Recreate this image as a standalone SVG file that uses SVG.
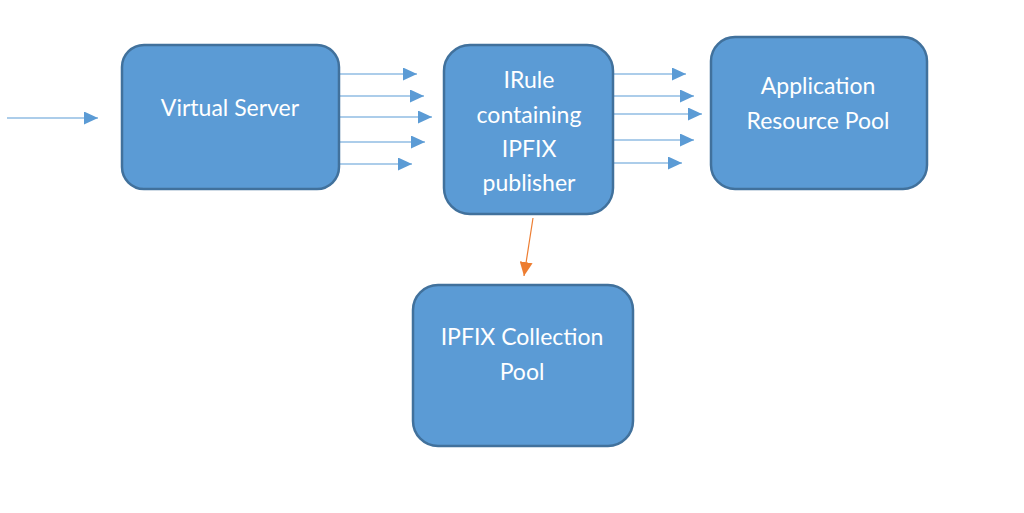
<svg xmlns="http://www.w3.org/2000/svg" width="1024" height="513" viewBox="0 0 1024 513">
<defs>
<style>
.box{fill:#5B9BD5;stroke:#41719C;stroke-width:2.5}
.lbl{font-family:Lato,"Open Sans","Liberation Sans",sans-serif;font-size:23px;fill:#FFFFFF;text-anchor:middle}
.c{stroke:#5B9BD5;stroke-width:1.2;fill:none;marker-end:url(#ab)}
.o{stroke:#ED7D31;stroke-width:1.2;fill:none;marker-end:url(#ao)}
</style>
<marker id="ab" markerWidth="14" markerHeight="13" refX="14" refY="6.5" orient="auto" markerUnits="userSpaceOnUse">
<path d="M0,0 L14,6.5 L0,13 Z" fill="#5B9BD5"/>
</marker>
<marker id="ao" markerWidth="14" markerHeight="13" refX="14" refY="6.5" orient="auto" markerUnits="userSpaceOnUse">
<path d="M0,0 L14,6.5 L0,13 Z" fill="#ED7D31"/>
</marker>
</defs>
<rect width="1024" height="513" fill="#FFFFFF"/>
<g id="connectors">
<line class="c" x1="7" y1="118" x2="98" y2="118"/>
<line class="c" x1="339" y1="74" x2="417" y2="74"/>
<line class="c" x1="339" y1="96" x2="424" y2="96"/>
<line class="c" x1="339" y1="117" x2="432" y2="117"/>
<line class="c" x1="339" y1="142" x2="425" y2="142"/>
<line class="c" x1="339" y1="164" x2="412" y2="164"/>
<line class="c" x1="613" y1="74" x2="686" y2="74"/>
<line class="c" x1="613" y1="96" x2="694" y2="96"/>
<line class="c" x1="613" y1="114" x2="702" y2="114"/>
<line class="c" x1="613" y1="140" x2="694" y2="140"/>
<line class="c" x1="613" y1="163" x2="682" y2="163"/>
<line class="o" x1="533" y1="218" x2="524" y2="276"/>
</g>
<g id="virtual-server">
<rect class="box" x="122" y="45" width="217" height="144" rx="22"/>
<text class="lbl" x="230" y="116">Virtual Server</text>
</g>
<g id="irule">
<rect class="box" x="444" y="45" width="169" height="169" rx="26"/>
<text class="lbl" x="529" y="88">IRule</text>
<text class="lbl" x="529" y="123">containing</text>
<text class="lbl" x="529" y="157">IPFIX</text>
<text class="lbl" x="529" y="191">publisher</text>
</g>
<g id="app-pool">
<rect class="box" x="711" y="37" width="216" height="152" rx="24"/>
<text class="lbl" x="818" y="94">Application</text>
<text class="lbl" x="818" y="129">Resource Pool</text>
</g>
<g id="ipfix-pool">
<rect class="box" x="413" y="285" width="220" height="161" rx="25"/>
<text class="lbl" x="522" y="345">IPFIX Collection</text>
<text class="lbl" x="522" y="380">Pool</text>
</g>
</svg>
